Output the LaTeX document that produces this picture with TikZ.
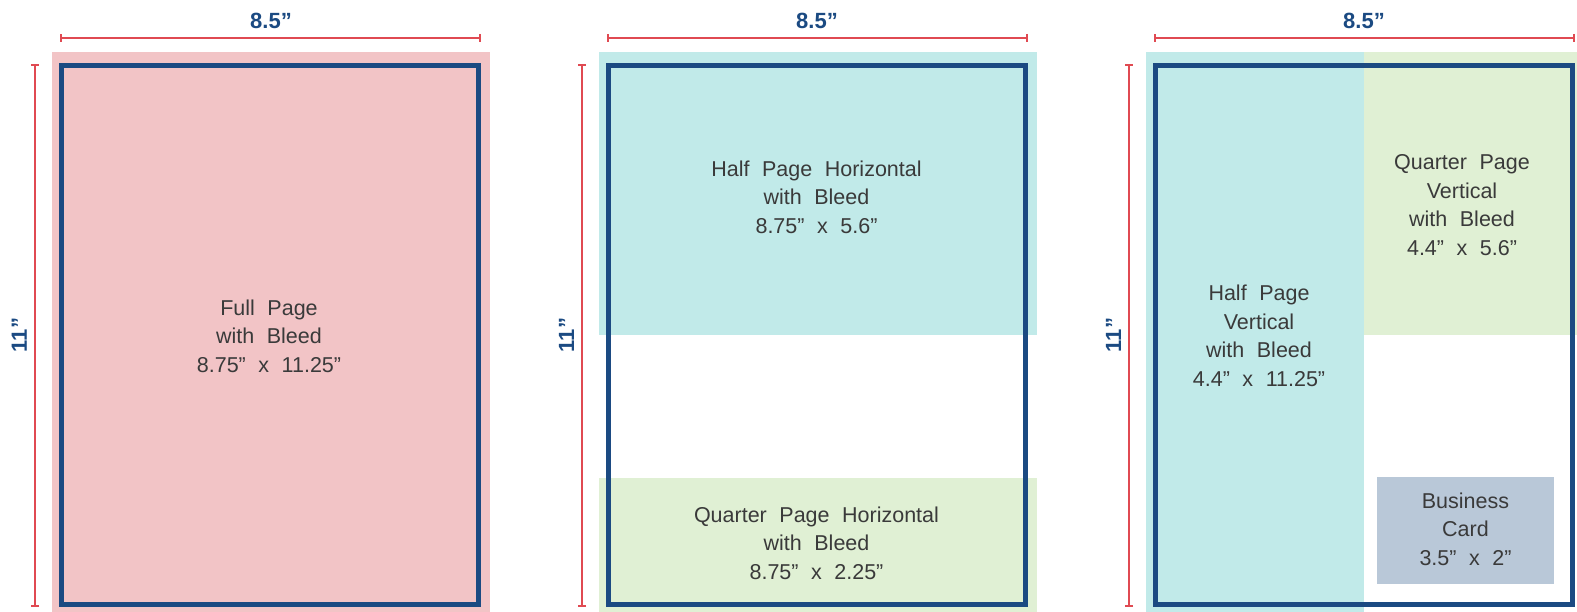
\documentclass[tikz,border=0pt]{standalone}
\usepackage{fontspec}
\setmainfont{Liberation Sans}
\newfontfamily\blockfont[WordSpace=2.1]{Liberation Sans}
\usetikzlibrary{arrows.meta}
\definecolor{pinkb}{HTML}{F2C4C6}
\definecolor{cyanb}{HTML}{C1EAE9}
\definecolor{greenb}{HTML}{E0F0D4}
\definecolor{cardb}{HTML}{B9C8D8}
\definecolor{frameblue}{HTML}{1B4A82}
\definecolor{dimred}{HTML}{E04A52}
\definecolor{txtgray}{HTML}{3A3A3A}
\begin{document}
\begin{tikzpicture}[x=1pt,y=-1pt,
  blocktext/.style={text=txtgray, font=\blockfont\fontsize{21.5}{28.6}\selectfont, align=center, inner sep=0pt},
  dimtext/.style={text=frameblue, font=\bfseries\fontsize{22}{26}\selectfont, inner sep=0pt},
  pageframe/.style={draw=frameblue, line width=5pt},
  dimline/.style={draw=dimred, line width=2pt, {Bar[width=8pt,line width=2pt]}-{Bar[width=8pt,line width=2pt]}}]
\useasboundingbox (0,0) rectangle (1577,612);
% ---------- Panel 1 ----------
\fill[pinkb] (52,52) rectangle (490,612);
\draw[pageframe] (61.5,65.5) rectangle (478.5,604.5);
\coordinate (h1a) at (59.5,38); \coordinate (h1b) at (480.5,38);
\draw[dimline] (h1a) -- (h1b);
\node[dimtext, anchor=base] (w1) at (271,29) {8.5”};
\coordinate (v1a) at (35,64); \coordinate (v1b) at (35,607);
\draw[dimline] (v1a) -- (v1b);
\node[dimtext, rotate=90, anchor=base] (ht1) at (27,335) {11”};
\node[blocktext] (t1) at (269,336) {Full Page\\with Bleed\\8.75” x 11.25”};
% ---------- Panel 2 ----------
\fill[cyanb] (599,52) rectangle (1037,335);
\fill[greenb] (599,478) rectangle (1037,612);
\draw[pageframe] (608.5,65.5) rectangle (1025.5,604.5);
\coordinate (h2a) at (606.5,38); \coordinate (h2b) at (1027.5,38);
\draw[dimline] (h2a) -- (h2b);
\node[dimtext, anchor=base] (w2) at (817,29) {8.5”};
\coordinate (v2a) at (582,64); \coordinate (v2b) at (582,607);
\draw[dimline] (v2a) -- (v2b);
\node[dimtext, rotate=90, anchor=base] (ht2) at (574,335) {11”};
\node[blocktext] (t2a) at (816.5,197) {Half Page Horizontal\\with Bleed\\8.75” x 5.6”};
\node[blocktext] (t2b) at (816.5,543) {Quarter Page Horizontal\\with Bleed\\8.75” x 2.25”};
% ---------- Panel 3 ----------
\fill[cyanb] (1146,52) rectangle (1364,612);
\fill[greenb] (1364,52) rectangle (1577,335);
\fill[cardb] (1377,477) rectangle (1554,584);
\draw[pageframe] (1155.5,65.5) rectangle (1572.5,604.5);
\coordinate (h3a) at (1153.5,38); \coordinate (h3b) at (1574.5,38);
\draw[dimline] (h3a) -- (h3b);
\node[dimtext, anchor=base] (w3) at (1364,29) {8.5”};
\coordinate (v3a) at (1129,64); \coordinate (v3b) at (1129,607);
\draw[dimline] (v3a) -- (v3b);
\node[dimtext, rotate=90, anchor=base] (ht3) at (1121,335) {11”};
\node[blocktext] (t3a) at (1259,336) {Half Page\\Vertical\\with Bleed\\4.4” x 11.25”};
\node[blocktext] (t3b) at (1462,205) {Quarter Page\\Vertical\\with Bleed\\4.4” x 5.6”};
\node[blocktext] (t3c) at (1465.5,529) {Business\\Card\\3.5” x 2”};
\end{tikzpicture}
\end{document}
